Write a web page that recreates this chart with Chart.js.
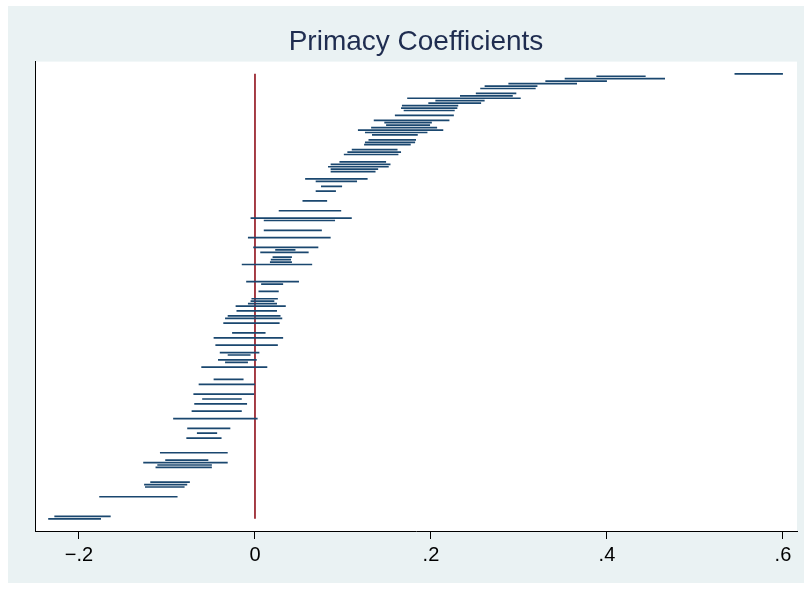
<!DOCTYPE html>
<html>
<head>
<meta charset="utf-8">
<script src="https://cdn.jsdelivr.net/npm/chart.js@4"></script>
<style>
  body { margin: 0; background: #fff; }
  #panel { position: absolute; left: 8px; top: 6px; width: 796px; height: 577px; background: #eaf2f3; }
</style>
</head>
<body>
<div id="panel"><canvas id="chart" width="796" height="577"></canvas></div>
<script>
// rank of each coefficient (vertical position), lower and upper bounds
const ranks = [182,181,180,179,178,177,176,174,173,172,171,170,169,168,167,165,163,162,161,160,
  159,158,157,155,154,153,151,150,149,146,145,144,143,142,139,138,136,134,130,126,
  123,122,118,115,111,110,109,107,106,105,104,97,96,93,90,89,88,87,85,83,
  82,80,76,74,71,68,67,65,64,62,57,55,51,49,47,44,41,37,35,33,
  27,24,23,22,21,15,14,13,9,1,0];
const lower = [0.545,0.388,0.352,0.330,0.288,0.261,0.256,0.251,0.233,0.173,
  0.205,0.197,0.167,0.166,0.169,0.159,0.135,0.147,0.149,0.132,
  0.117,0.125,0.133,0.129,0.125,0.124,0.110,0.105,0.101,0.096,
  0.086,0.083,0.086,0.086,0.057,0.069,0.075,0.069,0.054,0.027,
  -0.005,0.010,0.010,-0.008,-0.002,0.023,0.006,0.020,0.018,0.017,
  -0.015,-0.010,0.007,0.004,-0.004,-0.005,-0.008,-0.022,-0.021,-0.031,
  -0.034,-0.036,-0.026,-0.047,-0.045,-0.040,-0.031,-0.042,-0.034,-0.061,
  -0.047,-0.064,-0.070,-0.060,-0.069,-0.072,-0.093,-0.077,-0.066,-0.078,
  -0.108,-0.102,-0.127,-0.111,-0.113,-0.119,-0.126,-0.125,-0.177,-0.228,-0.235];
const upper = [0.600,0.444,0.466,0.400,0.366,0.321,0.319,0.297,0.293,0.302,
  0.261,0.257,0.231,0.230,0.227,0.226,0.221,0.201,0.199,0.207,
  0.214,0.196,0.185,0.183,0.182,0.177,0.162,0.166,0.163,0.149,
  0.154,0.152,0.140,0.137,0.128,0.116,0.099,0.092,0.082,0.098,
  0.110,0.091,0.076,0.086,0.072,0.046,0.061,0.042,0.041,0.042,
  0.065,0.050,0.032,0.027,0.026,0.022,0.025,0.035,0.025,0.029,
  0.031,0.028,0.012,0.032,0.026,0.005,-0.005,0.002,-0.008,0.014,
  -0.013,0.000,-0.001,-0.015,-0.009,-0.015,0.003,-0.028,-0.043,-0.038,
  -0.031,-0.053,-0.031,-0.049,-0.049,-0.074,-0.077,-0.080,-0.088,-0.164,-0.175];
const tickValues = [-0.2, 0, 0.2, 0.4, 0.6];
const tickLabels = ["\u2212.2", "0", ".2", ".4", ".6"];

// one path, broken by gaps between segments
const segPoints = [];
for (let i = 0; i < ranks.length; i++) {
  segPoints.push({ x: lower[i], y: ranks[i] });
  segPoints.push({ x: upper[i], y: ranks[i] });
  segPoints.push({ x: upper[i], y: null });
}

const ctx = document.getElementById("chart").getContext("2d");
new Chart(ctx, {
  type: "scatter",
  data: {
    datasets: [
      {
        data: segPoints,
        showLine: true,
        spanGaps: false,
        borderColor: "#1a476f",
        borderWidth: 1.7,
        pointRadius: 0,
      },
      {
        data: [{ x: 0, y: ranks[ranks.length - 1] }, { x: 0, y: ranks[0] }],
        showLine: true,
        borderColor: "#9c2a33",
        borderWidth: 1.8,
        pointRadius: 0,
      },
    ],
  },
  options: {
    responsive: false,
    animation: false,
    layout: { padding: { left: 19, right: 7, top: 10, bottom: 12 } },
    plugins: {
      legend: { display: false },
      tooltip: { enabled: false },
      title: {
        display: true,
        text: "Primacy Coefficients",
        fullSize: false,
        color: "#1f2d50",
        font: { family: "Liberation Sans, Arial, sans-serif", size: 28, weight: "normal" },
        padding: { top: 9, bottom: 3 },
      },
    },
    scales: {
      x: {
        type: "linear",
        min: -0.25,
        max: 0.616,
        afterBuildTicks: (scale) => {
          scale.ticks = tickValues.map((v) => ({ value: v }));
        },
        grid: { drawOnChartArea: false, drawTicks: true, tickLength: 8, color: "#000", tickWidth: 1 },
        border: { display: true, color: "#000", width: 1 },
        ticks: {
          color: "#000",
          padding: 4,
          maxRotation: 0,
          font: { family: "Liberation Sans, Arial, sans-serif", size: 20 },
          callback: (v) => tickLabels[tickValues.indexOf(v)],
        },
      },
      y: {
        type: "linear",
        min: -5,
        max: 187,
        grid: { display: false },
        border: { display: true, color: "#000", width: 1 },
        ticks: { display: false },
      },
    },
  },
  plugins: [
    {
      id: "plotBg",
      beforeDraw(chart) {
        const a = chart.chartArea;
        chart.ctx.save();
        chart.ctx.fillStyle = "#ffffff";
        chart.ctx.fillRect(a.left, a.top, a.right - a.left, a.bottom - a.top);
        chart.ctx.restore();
      },
    },
  ],
});
</script>
</body>
</html>
